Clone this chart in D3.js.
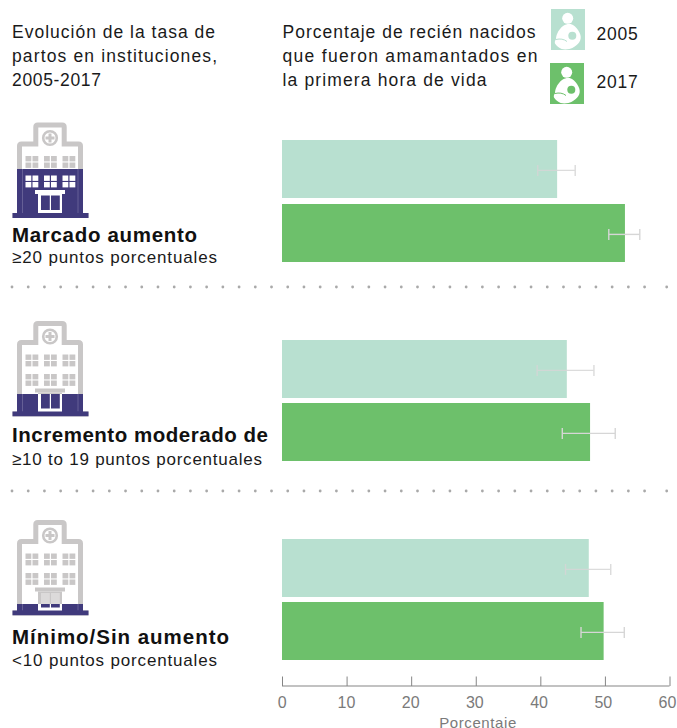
<!DOCTYPE html>
<html><head><meta charset="utf-8">
<script src="https://cdn.jsdelivr.net/npm/d3@7"></script>
<style>html,body{margin:0;padding:0;background:#fff;overflow:hidden}svg{display:block}text{font-family:"Liberation Sans",Arial,sans-serif}</style>
</head><body><svg id="c" width="677" height="728"></svg>
<script>
const years=["2005","2017"];
const groups=["Marcado aumento","Incremento moderado de","Mínimo/Sin aumento"];
const subtitles=["≥20 puntos porcentuales","≥10 to 19 puntos porcentuales","<10 puntos porcentuales"];
const values2005=[42.6,44.1,47.5];
const values2017=[53.1,47.7,49.8];
const low2005=[39.6,39.5,43.9];
const high2005=[45.4,48.3,50.9];
const low2017=[50.6,43.4,46.3];
const high2017=[55.4,51.6,53.0];
const xTicks=[0,10,20,30,40,50,60];
const fillShare=[0.51,0.234,0.12];
const colors={"2005":"#b8e0d0","2017":"#6dc06b"};
const leftTitle=["Evolución de la tasa de","partos en instituciones,","2005-2017"];
const rightTitle=["Porcentaje de recién nacidos","que fueron amamantados en","la primera hora de vida"];
const leftWidths=[203,205,89];
const rightWidths=[253,255,204];
const groupWidths=[185,256,217];
const subWidths=[205,250,205];

const svg=d3.select("#c");
const x=d3.scaleLinear().domain([0,60]).range([282,669.5]);
const labelX=d3.scaleLinear().domain([0,60]).range([281.7,667]);
const barTop={"2005":[140,340,539],"2017":[204,403,602]};
const barH=58;
const ink="#1a1a1a",grey="#c9c7c7",purple="#403a7c";

function lines(arr,widths,xp,y0,dy){arr.forEach((t,i)=>svg.append("text").attr("x",xp).attr("y",y0+i*dy).attr("font-size",17.5).attr("textLength",widths[i]).attr("lengthAdjust","spacing").attr("fill",ink).text(t));}
lines(leftTitle,leftWidths,12,38,24);
lines(rightTitle,rightWidths,282.5,38,24);

// legend
function mother(g,xc,yc,col){
  g.append("circle").attr("cx",xc-0.3).attr("cy",yc-11.2).attr("r",5.5).attr("fill","#fff");
  g.append("path").attr("fill","#fff").attr("transform",`translate(${xc},${yc})`)
   .attr("d","M-5,-3.5 C-2,-5.5 0,-5.8 2.7,-5.5 C6,-4.5 8.5,-2 10,0.5 C12,3.5 13,6 12.7,8.8 C12.3,12 10.5,14 8.7,15.5 C6,17.8 3.5,19 1.3,19.5 C-1.5,20 -4,20 -6.3,19.5 C-9,18.5 -11.5,16.5 -13,14 C-13.5,12.5 -13,11 -12,10 C-12,7.5 -11.5,5.5 -10.7,4 C-9.5,1 -7.5,-1.5 -5,-3.5Z");
  g.append("circle").attr("cx",xc+4.3).attr("cy",yc+6.2).attr("r",4).attr("fill",col);
  g.append("path").attr("fill","none").attr("stroke",col).attr("stroke-width",1).attr("transform",`translate(${xc},${yc})`).attr("d","M-12,10 C-8,9 -4,9.5 -1,12");
}
const legendPos=[[551,9],[550,63]];
const legendBase=[40,88];
years.forEach((yr,i)=>{
  const g=svg.append("g");
  g.append("rect").attr("x",legendPos[i][0]).attr("y",legendPos[i][1]).attr("width",34).attr("height",41).attr("fill",colors[yr]);
  mother(g,legendPos[i][0]+17,legendPos[i][1]+20.5,colors[yr]);
  svg.append("text").attr("x",596.5).attr("y",legendBase[i]).attr("font-size",17.5).attr("letter-spacing",0.8).attr("fill",ink).text(yr);
});

// hospital icons
function building(g,col,inner){
  const outline="M19.5,211 V146 Q19.5,144 21.5,144 H35.8 V127 Q35.8,125 37.8,125 H62.2 Q64.2,125 64.2,127 V144 H78.5 Q80.5,144 80.5,146 V211";
  g.append("path").attr("d",outline+"Z").attr("fill",inner).attr("stroke",col).attr("stroke-width",5);
  if(inner!=="#fff") g.append("path").attr("d","M22.5,213 V145 H78 V213").attr("fill","none").attr("stroke","#7d78a8").attr("stroke-width",0.6);
  g.append("rect").attr("x",12.5).attr("y",213).attr("width",76).attr("height",5).attr("fill",col);
  g.append("circle").attr("cx",50).attr("cy",138).attr("r",6.8).attr("fill",inner).attr("stroke",col).attr("stroke-width",2.6);
  g.append("path").attr("d","M50,133.5 V142.5 M45.5,138 H54.5").attr("stroke",col).attr("stroke-width",3);
  const wc=inner==="#fff"?col:"#fff";
  [25.5,44,62.5].forEach(wx=>[156,175.5].forEach(wy=>{
    [[0,0],[7,0],[0,6.5],[7,6.5]].forEach(o=>g.append("rect").attr("x",wx+o[0]).attr("y",wy+o[1]).attr("width",5.8).attr("height",5.4).attr("fill",wc));
  }));
  g.append("rect").attr("x",35).attr("y",190).attr("width",30).attr("height",4).attr("fill",wc);
  g.append("rect").attr("x",38).attr("y",194).attr("width",24).attr("height",19).attr("fill",wc);
  g.append("rect").attr("x",41).attr("y",195.5).attr("width",8.8).attr("height",14.5).attr("fill",inner==="#fff"?"#dcdada":inner);
  g.append("rect").attr("x",51).attr("y",195.5).attr("width",8.8).attr("height",14.5).attr("fill",inner==="#fff"?"#dcdada":inner);
}
const iconShift=[0,198.5,397.5];
groups.forEach((name,i)=>{
  const g=svg.append("g").attr("transform",`translate(0,${iconShift[i]})`);
  building(g.append("g"),grey,"#fff");
  const top=218-96*fillShare[i];
  const id="clip"+i;
  svg.append("clipPath").attr("id",id).append("rect").attr("x",0).attr("y",top).attr("width",100).attr("height",218-top);
  building(g.append("g").attr("clip-path",`url(#${id})`),purple,purple);
});

// group labels
const labelY=[241.5,442,644];
const subY=[263,465,666];
groups.forEach((name,i)=>{
  svg.append("text").attr("x",12).attr("y",labelY[i]).attr("font-size",20.5).attr("font-weight",700).attr("textLength",groupWidths[i]).attr("lengthAdjust","spacing").attr("fill","#111").text(name);
  svg.append("text").attr("x",12).attr("y",subY[i]).attr("font-size",17).attr("textLength",subWidths[i]).attr("lengthAdjust","spacing").attr("fill",ink).text(subtitles[i]);
});

// bars
const series=[{yr:"2005",v:values2005,lo:low2005,hi:high2005},{yr:"2017",v:values2017,lo:low2017,hi:high2017}];
series.forEach(s=>{
  const g=svg.append("g");
  g.selectAll("rect").data(s.v).join("rect")
    .attr("x",x(0)).attr("y",(d,i)=>barTop[s.yr][i]).attr("width",d=>x(d)-x(0)).attr("height",barH).attr("fill",colors[s.yr]);
  s.v.forEach((d,i)=>{
    const yc=barTop[s.yr][i]+barH/2+1.4;
    const e=g.append("g").attr("stroke","#d6d6d6").attr("stroke-width",1.4).attr("fill","none").attr("opacity",s.yr==="2005"?0.85:1);
    e.append("line").attr("x1",x(s.lo[i])).attr("x2",x(s.hi[i])).attr("y1",yc).attr("y2",yc);
    [s.lo[i],s.hi[i]].forEach(v=>e.append("line").attr("x1",x(v)).attr("x2",x(v)).attr("y1",yc-5.5).attr("y2",yc+5.5));
  });
});

// separators
const dotX=d3.range(0,40).map(d=>12+d*16.22).concat([666.7]);
[287,491].forEach(y=>{
  svg.append("g").selectAll("circle").data(dotX).join("circle")
    .attr("cx",d=>d).attr("cy",y).attr("r",1.4).attr("fill","#a9a9a9");
});

// axis
const ax=svg.append("g").attr("transform","translate(0,686)").call(d3.axisBottom(x).tickValues(xTicks).tickSize(-9.5).tickFormat(d3.format("d")));
ax.select(".domain").remove();
ax.append("line").attr("x1",x(0)).attr("x2",x(60)).attr("y1",0).attr("y2",0).attr("stroke","#858585");
ax.selectAll(".tick line").attr("stroke","#858585");
ax.selectAll(".tick text").attr("x",d=>labelX(d)-x(d)).attr("y",22).attr("dy",0).attr("font-size",16).attr("font-family",'"Liberation Sans"').attr("fill","#7a7a7a");
svg.append("text").attr("x",478).attr("y",728).attr("text-anchor","middle").attr("font-size",15).attr("letter-spacing",0.6).attr("fill","#7a7a7a").text("Porcentaje");
</script></body></html>
